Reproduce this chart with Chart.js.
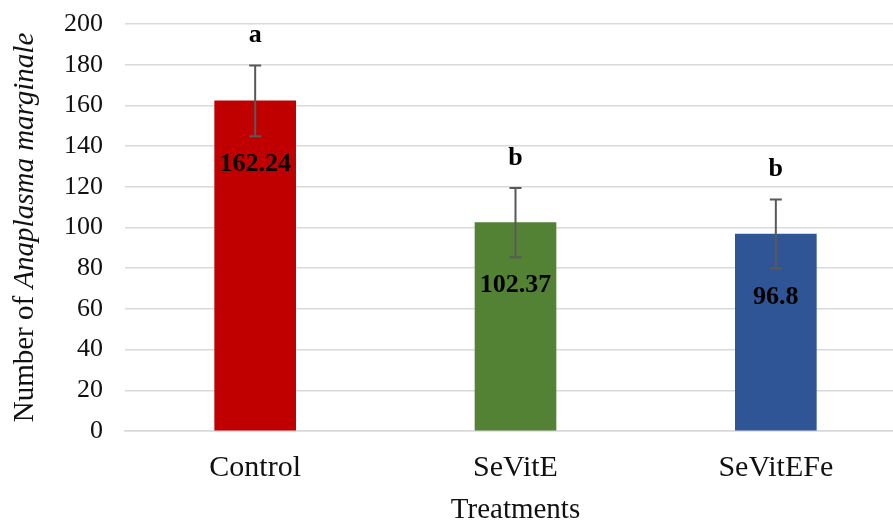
<!DOCTYPE html>
<html>
<head>
<meta charset="utf-8">
<script src="https://cdn.jsdelivr.net/npm/chart.js@4.4.1/dist/chart.umd.min.js"></script>
<style>
  html, body { margin: 0; padding: 0; background: #fff; overflow: hidden; }
  #wrap { width: 906px; height: 522px; position: relative; }
</style>
</head>
<body>
<div id="wrap"><canvas id="c"></canvas></div>
<script>
// Treatment groups and their measured means with standard deviations
const categories = ['Control', 'SeVitE', 'SeVitEFe'];
const means = [162.24, 102.37, 96.8];
const sds = [17.4, 17.0, 16.9];
const letters = ['a', 'b', 'b'];
const barColors = ['#C00000', '#548235', '#2F5597'];
const yTicks = [0, 20, 40, 60, 80, 100, 120, 140, 160, 180, 200];
const yTitleParts = [
  { text: 'Number of ', style: '' },
  { text: 'Anaplasma marginale', style: 'italic ' }
];

const SERIF = '"Liberation Serif", "Times New Roman", serif';

// Error bars, value labels, significance letters and the mixed-style y title
const annotate = {
  id: 'annotate',
  afterDatasetsDraw(chart) {
    const ctx = chart.ctx;
    const meta = chart.getDatasetMeta(0);
    const y = chart.scales.y;
    ctx.save();
    meta.data.forEach((bar, i) => {
      const x = bar.x;
      const top = y.getPixelForValue(means[i] + sds[i]);
      const bot = y.getPixelForValue(means[i] - sds[i]);
      ctx.strokeStyle = '#595959';
      ctx.lineWidth = 2;
      ctx.beginPath();
      ctx.moveTo(x, top); ctx.lineTo(x, bot);
      ctx.moveTo(x - 6, top); ctx.lineTo(x + 6, top);
      ctx.moveTo(x - 6, bot); ctx.lineTo(x + 6, bot);
      ctx.stroke();

      ctx.fillStyle = '#000';
      ctx.textAlign = 'center';
      ctx.textBaseline = 'middle';
      ctx.font = 'bold 26px ' + SERIF;
      ctx.fillText(String(means[i]), x, y.getPixelForValue(means[i]) + 63);
      ctx.fillText(letters[i], x, top - 30);
    });

    // rotated axis title with an italic species name
    const area = chart.chartArea;
    const cy = (area.top + area.bottom) / 2;
    ctx.translate(25, cy);
    ctx.rotate(-Math.PI / 2);
    ctx.textBaseline = 'middle';
    ctx.textAlign = 'left';
    ctx.fillStyle = '#111';
    let total = 0;
    yTitleParts.forEach(p => {
      ctx.font = p.style + '29px ' + SERIF;
      p.w = ctx.measureText(p.text).width;
      total += p.w;
    });
    let xx = -total / 2;
    yTitleParts.forEach(p => {
      ctx.font = p.style + '29px ' + SERIF;
      ctx.fillText(p.text, xx, 0);
      xx += p.w;
    });
    ctx.restore();
  }
};

new Chart(document.getElementById('c'), {
  type: 'bar',
  data: {
    labels: categories,
    datasets: [{
      data: means,
      backgroundColor: barColors,
      borderWidth: 0,
      barThickness: 81
    }]
  },
  options: {
    responsive: true,
    maintainAspectRatio: false,
    animation: false,
    layout: { padding: { top: 24, left: 0, right: 0, bottom: 0 } },
    plugins: { legend: { display: false }, tooltip: { enabled: false } },
    scales: {
      x: {
        grid: { display: false, drawTicks: false },
        border: { display: true, color: '#d9d9d9', width: 1.5 },
        ticks: { color: '#111', padding: 19, font: { family: SERIF, size: 30 } },
        title: {
          display: true, text: 'Treatments', color: '#111',
          font: { family: SERIF, size: 29, lineHeight: 1 },
          padding: { top: 0, bottom: -3 }
        },
        afterFit(s) { s.height = 91; s.paddingLeft = 0; s.paddingRight = 0; }
      },
      y: {
        min: 0, max: 200,
        afterBuildTicks(s) { s.ticks = yTicks.map(v => ({ value: v })); },
        grid: { color: '#d9d9d9', lineWidth: 1.5, drawTicks: false },
        border: { display: false },
        ticks: { color: '#111', padding: 22, font: { family: SERIF, size: 26 } },
        title: { display: false },
        afterFit(s) { s.width = 125; s.paddingTop = 0; s.paddingBottom = 0; }
      }
    }
  },
  plugins: [annotate]
});
</script>
</body>
</html>
